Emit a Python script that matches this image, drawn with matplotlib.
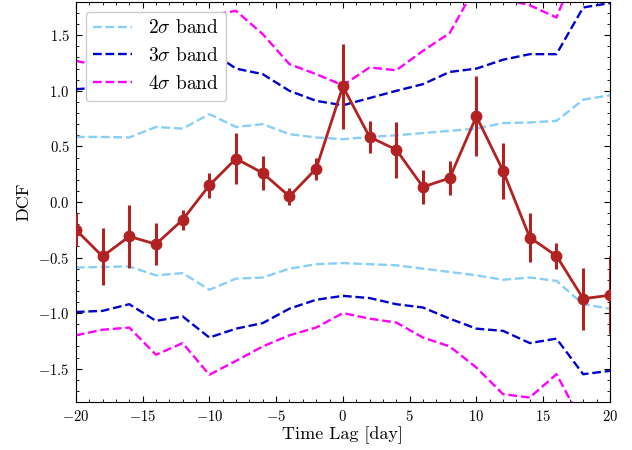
import matplotlib
matplotlib.use("Agg")
import matplotlib.pyplot as plt
import numpy as np

plt.rcParams['font.family'] = 'serif'
plt.rcParams['font.serif'] = ['cmr10', 'DejaVu Serif']
plt.rcParams['mathtext.fontset'] = 'cm'
plt.rcParams['axes.formatter.use_mathtext'] = True
plt.rcParams['axes.unicode_minus'] = True

lags = [-20, -18, -16, -14, -12, -10, -8, -6, -4, -2, 0, 2, 4, 6, 8, 10, 12, 14, 16, 18, 20]
dcf = [-0.25, -0.49, -0.31, -0.38, -0.16, 0.15, 0.39, 0.26, 0.05, 0.30, 1.04,
       0.585, 0.47, 0.135, 0.215, 0.77, 0.28, -0.32, -0.485, -0.87, -0.84]
dcf_err = [0.15, 0.26, 0.28, 0.19, 0.09, 0.11, 0.23, 0.15, 0.08, 0.10, 0.38,
           0.14, 0.25, 0.15, 0.15, 0.36, 0.25, 0.22, 0.12, 0.28, 0.35]

band2_up = [0.585, 0.585, 0.58, 0.675, 0.66, 0.79, 0.675, 0.70, 0.61, 0.58, 0.565,
            0.585, 0.60, 0.62, 0.64, 0.66, 0.71, 0.715, 0.73, 0.92, 0.96]
band2_lo = [-0.59, -0.585, -0.58, -0.66, -0.64, -0.79, -0.69, -0.68, -0.60, -0.56, -0.55,
            -0.56, -0.57, -0.60, -0.63, -0.66, -0.70, -0.68, -0.71, -0.92, -0.96]
band3_up = [1.015, 1.03, 0.97, 1.12, 1.08, 1.36, 1.20, 1.15, 1.00, 0.91, 0.87,
            0.935, 1.00, 1.06, 1.17, 1.20, 1.28, 1.33, 1.33, 1.75, 1.79]
band3_lo = [-0.99, -0.98, -0.92, -1.07, -1.03, -1.22, -1.14, -1.09, -0.96, -0.88, -0.845,
            -0.865, -0.92, -0.95, -1.05, -1.14, -1.16, -1.27, -1.23, -1.55, -1.52]
band4_up = [1.27, 1.22, 1.20, 1.45, 1.35, 1.68, 1.72, 1.51, 1.24, 1.15, 1.05,
            1.21, 1.185, 1.36, 1.52, 1.95, 1.83, 1.77, 1.66, 2.25, 2.30]
band4_lo = [-1.20, -1.15, -1.13, -1.375, -1.27, -1.555, -1.43, -1.30, -1.20, -1.13, -1.0,
            -1.05, -1.085, -1.22, -1.30, -1.49, -1.73, -1.76, -1.55, -2.0, -2.1]

fig = plt.figure(figsize=(6.32, 4.5), dpi=100)
ax = fig.add_axes([0.120, 0.1067, 0.845, 0.889])

lw = 1.7
ax.plot(lags, band2_up, ls='--', color='lightskyblue', lw=lw, label=r'$2\sigma$ band')
ax.plot(lags, band2_lo, ls='--', color='lightskyblue', lw=lw)
ax.plot(lags, band3_up, ls='--', color='mediumblue', lw=lw, label=r'$3\sigma$ band')
ax.plot(lags, band3_lo, ls='--', color='mediumblue', lw=lw)
ax.plot(lags, band4_up, ls='--', color='magenta', lw=lw, label=r'$4\sigma$ band')
ax.plot(lags, band4_lo, ls='--', color='magenta', lw=lw)

ax.errorbar(lags, dcf, yerr=dcf_err, color='firebrick', marker='o', ms=7.5,
            lw=2, elinewidth=2.2, capsize=0, zorder=5)

ax.set_xlim(-20, 20)
ax.set_ylim(-1.8, 1.8)
ax.set_xticks([-20, -15, -10, -5, 0, 5, 10, 15, 20])
ax.set_yticks([-1.5, -1.0, -0.5, 0.0, 0.5, 1.0, 1.5])
ax.set_xticks(np.arange(-20, 21, 1), minor=True)
ax.set_yticks(np.arange(-1.8, 1.81, 0.1), minor=True)
ax.tick_params(which='both', direction='in', top=True, right=True, labelsize=10.5)
ax.tick_params(which='major', length=4)
ax.tick_params(which='minor', length=2)
ax.tick_params(axis='y', which='major', pad=4.5)
ax.tick_params(axis='x', which='major', pad=5)

ax.set_xlabel('Time Lag [day]', fontsize=13, labelpad=2)
ax.set_ylabel('DCF', fontsize=13, labelpad=5)

leg = ax.legend(loc='upper left', fontsize=14, framealpha=1, edgecolor='#cccccc',
                fancybox=True, handlelength=2.0)

fig.savefig('out.png', dpi=100)
